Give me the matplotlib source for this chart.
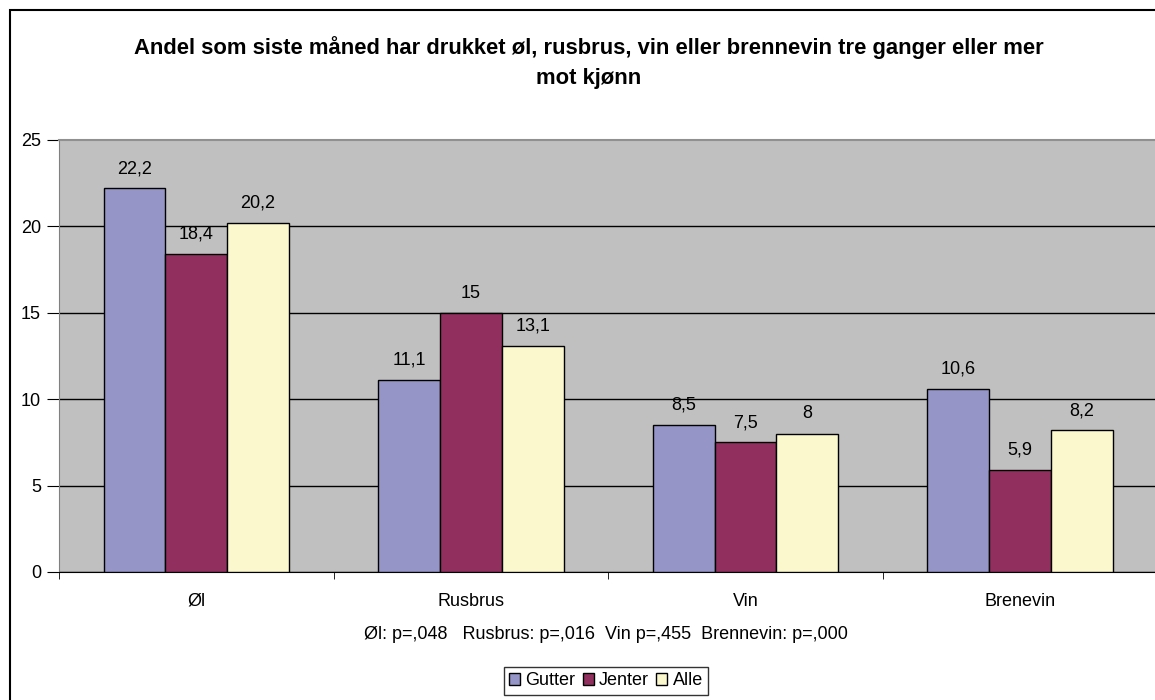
import numpy as np
import matplotlib.pyplot as plt
from matplotlib.patches import Rectangle

plt.rcParams['font.family'] = ['Liberation Sans', 'DejaVu Sans']

categories = ['Øl', 'Rusbrus', 'Vin', 'Brenevin']
series = ['Gutter', 'Jenter', 'Alle']
gutter = [22.2, 11.1, 8.5, 10.6]
jenter = [18.4, 15, 7.5, 5.9]
alle = [20.2, 13.1, 8, 8.2]
colors = ['#9595C8', '#91305E', '#FBF8CD']
pvals = 'Øl: p=,048   Rusbrus: p=,016  Vin p=,455  Brennevin: p=,000'


def fmt(v):
    s = ('%g' % v).replace('.', ',')
    return s


def main():
    fig = plt.figure(figsize=(11.55, 7.0), dpi=100)
    fig.patches.append(Rectangle((10 / 1155, -0.01), 1.2, 1 - 10 / 700 + 0.01,
                                 transform=fig.transFigure, fill=False,
                                 edgecolor='black', linewidth=1.5))

    ax = fig.add_axes([59 / 1155, 1 - 572 / 700, 1 - 59 / 1155 + 0.002, 432 / 700])
    ax.set_facecolor('#C0C0C0')

    x = np.arange(len(categories))
    w = 0.225
    for i, (name, vals) in enumerate(zip(series, [gutter, jenter, alle])):
        pos = x + (i - 1) * w
        ax.bar(pos, vals, w, color=colors[i], edgecolor='black', linewidth=1,
               label=name, zorder=3)
        for px, v in zip(pos, vals):
            ax.annotate(fmt(v), (px, v), xytext=(0, 11), textcoords='offset points',
                        ha='center', va='baseline', fontsize=13)

    ax.set_xlim(-0.5, len(categories) - 0.5)
    ax.set_ylim(0, 25)
    ax.set_yticks([0, 5, 10, 15, 20, 25])
    ax.yaxis.grid(True, color='black', linewidth=1, zorder=1)
    ax.get_ygridlines()[-1].set_visible(False)
    ax.set_axisbelow(True)
    ax.set_xticks(x)
    ax.set_xticklabels(categories, fontsize=13)
    ax.set_xticks(np.arange(len(categories) + 1) - 0.5, minor=True)
    ax.tick_params(axis='x', which='major', length=0, pad=15)
    ax.tick_params(axis='x', which='minor', length=5, direction='out')
    ax.tick_params(axis='y', labelsize=13, length=9, direction='out', pad=4)
    ax.spines['right'].set_visible(False)
    ax.spines['top'].set_color('#909090')
    ax.spines['top'].set_linewidth(1.5)
    ax.spines['left'].set_color('#808080')
    ax.spines['bottom'].set_color('black')

    fig.text(589 / 1155, 1 - 54 / 700,
             'Andel som siste måned har drukket øl, rusbrus, vin eller brennevin tre ganger eller mer',
             ha='center', va='baseline', fontsize=15.8, fontweight='bold')
    fig.text(589 / 1155, 1 - 84 / 700, 'mot kjønn', ha='center', va='baseline',
             fontsize=15.8, fontweight='bold')
    fig.text(606 / 1155, 1 - 639 / 700, pvals, ha='center', va='baseline', fontsize=13)

    leg = ax.legend(loc='upper center', bbox_to_anchor=(606 / 1155, 1 - 667 / 700),
                    bbox_transform=fig.transFigure, ncol=3, fontsize=13,
                    frameon=True, fancybox=False, edgecolor='black',
                    handlelength=0.6, handleheight=0.6, handletextpad=0.3,
                    columnspacing=0.4, borderpad=0.3, borderaxespad=0)
    leg.get_frame().set_linewidth(1)

    fig.savefig('out.png', dpi=100)


if __name__ == '__main__':
    main()
